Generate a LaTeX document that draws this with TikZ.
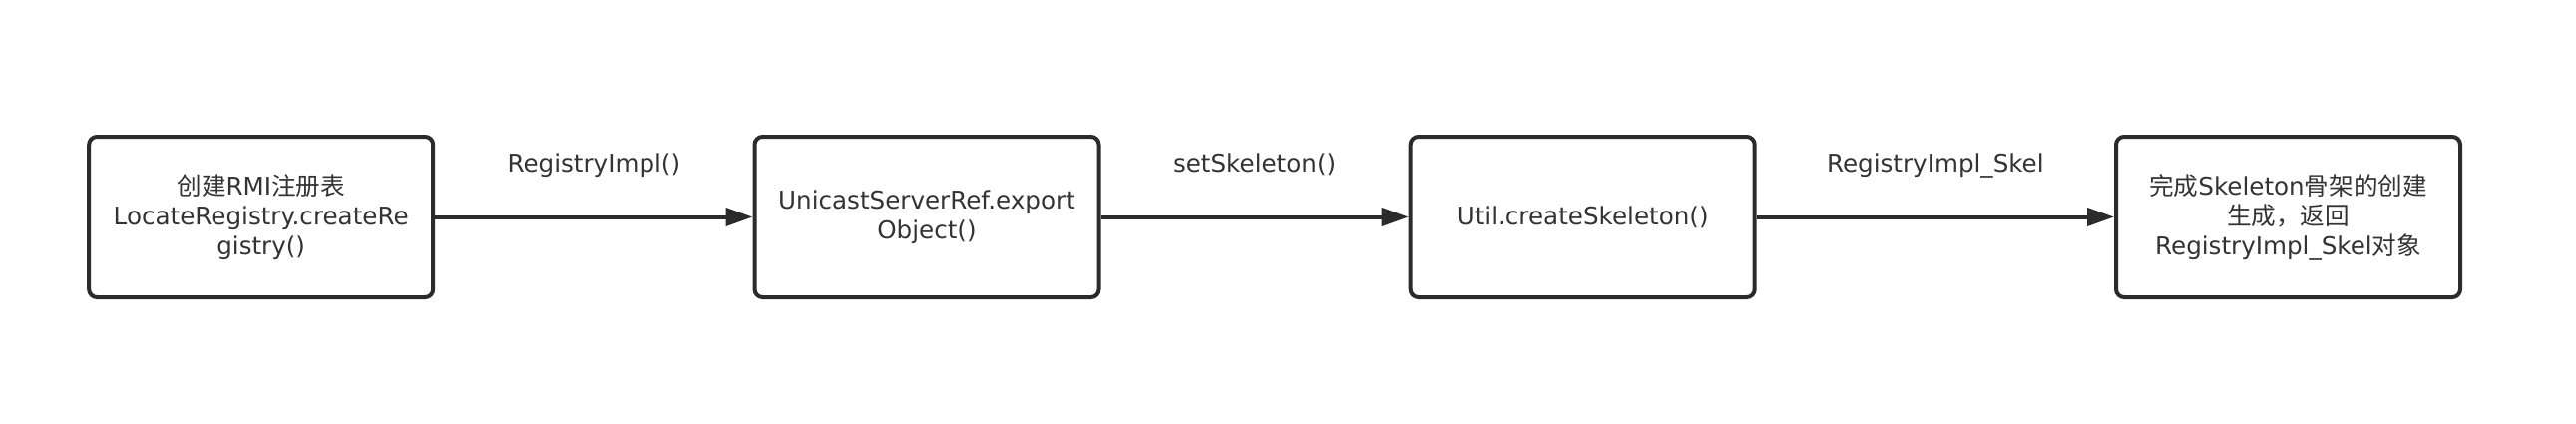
\documentclass[tikz,border=0pt]{standalone}
\usepackage{fontspec}
\setmainfont{DejaVu Sans}
\newfontfamily\cjk{Noto Sans CJK SC}
\usetikzlibrary{arrows.meta,positioning}
\definecolor{lineColor}{HTML}{2B2B2B}
\definecolor{textColor}{HTML}{333333}
\newcommand{\zh}[1]{{\cjk #1}}
\tikzset{
	box/.style={draw=lineColor, line width=2pt, rounded corners=4pt,
		minimum width=172.5pt, minimum height=80.5pt, align=center,
		text=textColor, font=\fontsize{12.3}{15}\selectfont},
	flow/.style={->, >={Triangle[length=13.5pt,width=9pt]},
		draw=lineColor, line width=2pt},
	call/.style={midway, anchor=base, yshift=22.5pt,
		text=textColor, font=\fontsize{12.3}{15}\selectfont}
}

\begin{document}
\begin{tikzpicture}[x=0.5pt, y=0.5pt]
	\useasboundingbox (0,0) rectangle (2582,424);
	\node[box] (reg) at (261.7, 206.5) {\zh{创建}RMI\zh{注册表}\\
			LocateRegistry.createRe\\ gistry()};
	\node[box] (exp) at (929, 206.5) {UnicastServerRef.export\\ Object()};
	\node[box] (skel) at (1586.2, 206.5) {Util.createSkeleton()};
	\node[box] (done) at (2293.5, 206.5) {\zh{完成}Skeleton\zh{骨架的创建}\\
			\zh{生成，返回}\\ RegistryImpl\_Skel\zh{对象}};
	
	\path[flow] (reg) -- node[call] {RegistryImpl()} (exp);
	\path[flow] (exp) -- node[call] {setSkeleton()} (skel);
	\path[flow] (skel) -- node[call] {RegistryImpl\_Skel} (done);
\end{tikzpicture}
\end{document}
